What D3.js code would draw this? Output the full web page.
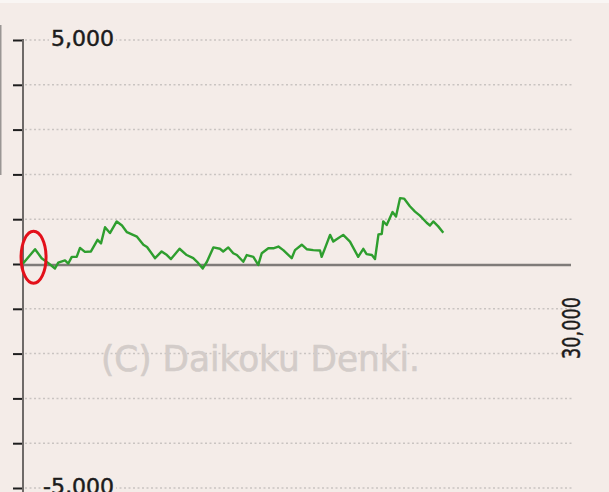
<!DOCTYPE html>
<html>
<head>
<meta charset="utf-8">
<script src="https://cdn.jsdelivr.net/npm/d3@7"></script>
<style>
  html, body { margin: 0; padding: 0; background: #f4ece8; }
  svg { display: block; }
</style>
</head>
<body>
<div id="chart"></div>
<script>
// games played (x) and medal difference (y)
const games = [0, 660, 1020, 1390, 1750, 1930, 2300, 2480, 2670, 2940,
  3120, 3390, 3720, 4080, 4270, 4490, 4760, 5130, 5420, 5690,
  6020, 6240, 6590, 6790, 7230, 7590, 7880, 8100, 8570, 8960,
  9320, 9530, 9840, 10070, 10420, 10780, 10960, 11240, 11510, 11710,
  12060, 12250, 12610, 12880, 13070, 13430, 13700, 13980, 14250, 14710,
  14890, 15260, 15530, 15890, 16260, 16350, 16530, 16810, 16990, 17170,
  17530, 17900, 18350, 18630, 18810, 19100, 19270, 19460, 19640, 19720,
  19910, 20230, 20420, 20640, 20860, 21180, 21460, 21730, 22100, 22280,
  22460, 22730, 23010]
const diffs = [10, 330, 130, 20, -100, 30, 80, 10, 160, 160,
  360, 270, 280, 540, 460, 820, 690, 950, 860, 710,
  650, 610, 430, 380, 130, 280, 200, 110, 340, 200,
  130, 50, -100, 50, 370, 340, 280, 370, 240, 200,
  50, 200, 160, -20, 240, 350, 350, 390, 310, 130,
  310, 430, 330, 310, 300, 160, 350, 650, 500, 550,
  650, 500, 160, 340, 220, 200, 110, 660, 670, 950,
  870, 1160, 1060, 1470, 1460, 1290, 1170, 1080, 920, 860,
  950, 840, 700]

const yTicks = [5000, 4000, 3000, 2000, 1000, 0, -1000, -2000, -3000, -4000, -5000]
const yLabels = [{v: 5000, text: "5,000"}, {v: -5000, text: "-5,000"}]
const xMax = 30000
const xLabel = "30,000"
const watermark = "(C) Daikoku Denki."

const width = 609, height = 492
const x = d3.scaleLinear().domain([0, xMax]).range([23, 571])
const y = d3.scaleLinear().domain([-5000, 5000]).range([488, 40])

const svg = d3.select("#chart").append("svg")
  .attr("width", width)
  .attr("height", height)
  .style("font-family", "'DejaVu Sans', sans-serif")

svg.append("rect").attr("width", width).attr("height", height).attr("fill", "#f4ece8")
svg.append("rect").attr("width", width).attr("height", 3).attr("fill", "#f9f6f4")
// clipped remnant at the left edge
svg.append("rect").attr("x", 0).attr("y", 25).attr("width", 1.5).attr("height", 150)
  .attr("fill", "#9a9694")

// dotted grid
svg.append("g").selectAll("line").data(yTicks.filter(d => d != 0))
  .join("line")
    .attr("x1", 25).attr("x2", 572)
    .attr("y1", d => y(d)).attr("y2", d => y(d))
    .attr("stroke", "#c9c4c1")
    .attr("stroke-width", 1.5)
    .attr("stroke-dasharray", "2,2.5")

// watermark
svg.append("text")
  .attr("x", 101).attr("y", 371)
  .attr("font-size", 35)
  .attr("textLength", 319)
  .attr("lengthAdjust", "spacingAndGlyphs")
  .attr("fill", "#d3ccc9")
  .attr("stroke", "#d3ccc9")
  .attr("stroke-width", 0.6)
  .text(watermark)

// zero line
svg.append("line")
  .attr("x1", x(0)).attr("x2", x(xMax))
  .attr("y1", y(0) + 1).attr("y2", y(0) + 1)
  .attr("stroke", "#7f7b79")
  .attr("stroke-width", 2.5)

// left axis with ticks, no labels
const axis = svg.append("g")
  .attr("transform", "translate(23,0)")
  .call(d3.axisLeft(y).tickValues(yTicks).tickSize(10).tickFormat("").tickSizeOuter(0))
axis.select(".domain").remove()
axis.selectAll(".tick line").attr("stroke", "#1e1e1e").attr("stroke-width", 2)
svg.append("line")
  .attr("x1", 23).attr("x2", 23)
  .attr("y1", y(5000) - 1).attr("y2", height)
  .attr("stroke", "#6e6a68")
  .attr("stroke-width", 2)

// y labels with background so the grid does not cross them
const lab = svg.append("g").selectAll("g").data(yLabels).join("g")
lab.append("text")
  .attr("x", 114).attr("y", d => y(d.v) + 6)
  .attr("text-anchor", "end")
  .attr("font-size", 22)
  .attr("fill", "#1c1c1c")
  .attr("stroke", "#1c1c1c")
  .attr("stroke-width", 0.5)
  .text(d => d.text)
lab.each(function() {
  const t = d3.select(this).select("text")
  const b = t.node().getBBox()
  d3.select(this).insert("rect", "text")
    .attr("x", b.x - 2).attr("y", b.y + 2)
    .attr("width", b.width + 4).attr("height", b.height - 4)
    .attr("fill", "#f4ece8")
})

// x label, rotated
svg.append("text")
  .attr("transform", "translate(580,359) rotate(-90)")
  .attr("font-size", 24)
  .attr("textLength", 62)
  .attr("lengthAdjust", "spacingAndGlyphs")
  .attr("fill", "#1c1c1c")
  .attr("stroke", "#1c1c1c")
  .attr("stroke-width", 0.5)
  .text(xLabel)

// the green line
const line = d3.line().x((d, i) => x(games[i])).y(d => y(d))
svg.append("path")
  .datum(diffs)
  .attr("d", line)
  .attr("fill", "none")
  .attr("stroke", "#2e9e2e")
  .attr("stroke-width", 2.4)
  .attr("stroke-linejoin", "round")

// red marker around the start
svg.append("ellipse")
  .attr("cx", x(games[1]) - 1.5).attr("cy", y(diffs[1]) + 8)
  .attr("rx", 12.5).attr("ry", 26)
  .attr("fill", "none")
  .attr("stroke", "#e3101a")
  .attr("stroke-width", 3)
</script>
</body>
</html>
